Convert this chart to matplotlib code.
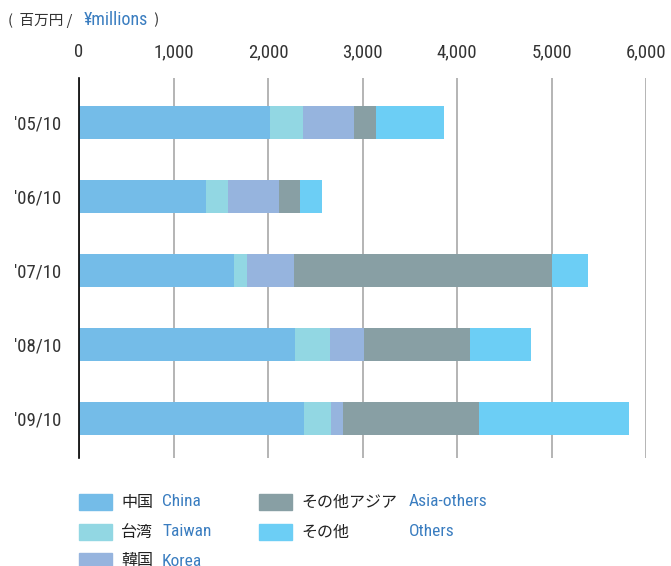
import numpy as np
import matplotlib.pyplot as plt
from matplotlib.patches import Rectangle

# data (百万円)
years = ["'05/10", "'06/10", "'07/10", "'08/10", "'09/10"]
china = [2020, 1345, 1640, 2285, 2380]
taiwan = [350, 230, 140, 370, 285]
korea = [540, 540, 490, 360, 130]
asia_others = [235, 225, 2735, 1125, 1440]
others = [720, 235, 380, 645, 1580]

names_jp = ['中国', '台湾', '韓国', 'その他アジア', 'その他']
names_en = ['China', 'Taiwan', 'Korea', 'Asia-others', 'Others']
colors = ['#74bce8', '#92d7e3', '#96b4de', '#889fa4', '#6ccef5']

xticks = [0, 1000, 2000, 3000, 4000, 5000, 6000]

JP = ['Noto Sans CJK JP', 'DejaVu Sans']
NUM = ['Roboto Condensed', 'Liberation Sans Narrow', 'Roboto', 'DejaVu Sans']
DARK = '#333333'
BLUE = '#3a7dc0'

fig = plt.figure(figsize=(6.71, 5.66), dpi=100)
ax = fig.add_axes([79 / 671, 1 - 458 / 566, 567 / 671, 380 / 566])

series = [china, taiwan, korea, asia_others, others]
y = np.arange(len(years))
left = np.zeros(len(years))
for vals, c in zip(series, colors):
    ax.barh(y, vals, left=left, height=0.446, color=c, zorder=2)
    left += np.array(vals)

ax.set_xlim(0, 6000)
ax.set_ylim(4.53, -0.6)
ax.set_xticks(xticks)
ax.set_xticklabels([f'{v:,}' for v in xticks], family=NUM, fontsize=13.5, color=DARK)
ax.xaxis.tick_top()
ax.tick_params(axis='x', length=0, pad=12)
ax.set_yticks(y)
ax.set_yticklabels(years, family=NUM, fontsize=13.5, color=DARK)
ax.tick_params(axis='y', length=0, pad=13)

ax.xaxis.grid(True, color='#a8a8a8', linewidth=1.2, zorder=1)
ax.set_axisbelow(True)
for s in ['top', 'right', 'bottom']:
    ax.spines[s].set_visible(False)
ax.spines['left'].set_color('black')
ax.spines['left'].set_linewidth(1.2)
ax.spines['left'].set_zorder(3)

# unit label
fig.text(8 / 671, 1 - 20 / 566, '(  百万円 / ', family=JP, fontsize=10.5, color=DARK, va='center')
fig.text(84 / 671, 1 - 20 / 566, '¥millions', family=NUM, fontsize=13, color=BLUE, va='center')
fig.text(151 / 671, 1 - 20 / 566, ' )', family=JP, fontsize=10.5, color=DARK, va='center')

# legend
W, H = 671, 566
pos = [(79, 502), (79, 532), (79, 561), (259, 502), (259, 532)]
en_x = [162, 162, 162, 409, 409]
for i in range(5):
    px, py = pos[i]
    fig.patches.append(Rectangle((px / W, 1 - (py + 8) / H), 33 / W, 16 / H,
                                 transform=fig.transFigure, color=colors[i]))
    fig.text((px + 42) / W, 1 - py / H, names_jp[i], family=JP, fontsize=11.5,
             color='#222222', va='center')
    fig.text(en_x[i] / W, 1 - py / H, names_en[i], family=NUM, fontsize=12.5,
             color=BLUE, va='center')

fig.savefig('out.png', dpi=100)
